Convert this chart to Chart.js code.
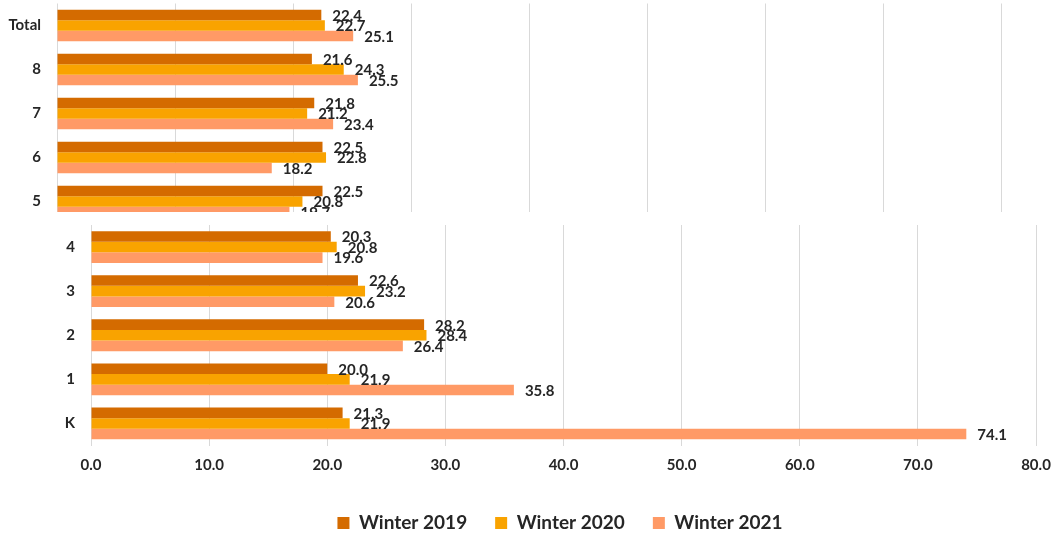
<!DOCTYPE html>
<html>
<head>
<meta charset="utf-8">
<script src="https://cdn.jsdelivr.net/npm/chart.js@4/dist/chart.umd.min.js"></script>
<style>
  html, body { margin: 0; padding: 0; background: #fff; overflow: hidden; }
  body { width: 1058px; height: 537px; position: relative; }
  #topBox { position: absolute; left: 0; top: 0; width: 1058px; height: 212px; overflow: hidden; background: #fff; z-index: 2; }
  #bottomBox { position: absolute; left: 0; top: 214px; width: 1058px; height: 323px; overflow: hidden; background: #fff; }
</style>
</head>
<body>
<div id="topBox"><canvas id="chartTop" width="1058" height="444"></canvas></div>
<div id="bottomBox"><canvas id="chartBottom" width="1120" height="330"></canvas></div>
<script>
// grades / average by winter
const categories = ['Total', '8', '7', '6', '5', '4', '3', '2', '1', 'K'];
const winter2019 = [22.4, 21.6, 21.8, 22.5, 22.5, 20.3, 22.6, 28.2, 20.0, 21.3];
const winter2020 = [22.7, 24.3, 21.2, 22.8, 20.8, 20.8, 23.2, 28.4, 21.9, 21.9];
const winter2021 = [25.1, 25.5, 23.4, 18.2, 19.7, 19.6, 20.6, 26.4, 35.8, 74.1];
const seriesNames = ['Winter 2019', 'Winter 2020', 'Winter 2021'];
const xTicks = [0, 10, 20, 30, 40, 50, 60, 70, 80];

const colors = ['#D46B00', '#F9A300', '#FF9A66'];
const FONT = 'Lato, "Open Sans", sans-serif';
const TEXT = '#262626';

// value labels at the bar ends
const valueLabels = {
  id: 'valueLabels',
  afterDatasetsDraw(chart) {
    const ctx = chart.ctx;
    ctx.save();
    ctx.font = 'bold 15px ' + FONT;
    ctx.fillStyle = TEXT;
    ctx.textBaseline = 'middle';
    ctx.textAlign = 'left';
    chart.data.datasets.forEach((ds, i) => {
      chart.getDatasetMeta(i).data.forEach((bar, j) => {
        ctx.fillText(ds.data[j].toFixed(1), bar.x + 11, bar.y + 1);
      });
    });
    ctx.restore();
  }
};

function makeData(from, to) {
  const all = [winter2019, winter2020, winter2021];
  return {
    labels: categories.slice(from, to),
    datasets: all.map((vals, i) => ({
      label: seriesNames[i],
      data: vals.slice(from, to),
      backgroundColor: colors[i],
      borderWidth: 0,
      categoryPercentage: 0.72,
      barPercentage: 1.0
    }))
  };
}

function makeOptions(padRight, pad, showX, showLegend) {
  return {
    indexAxis: 'y',
    responsive: false,
    animation: false,
    layout: { padding: pad },
    plugins: {
      legend: {
        display: showLegend,
        position: 'bottom',
        labels: {
          boxWidth: 12, boxHeight: 12, padding: 28,
          color: TEXT,
          font: { family: FONT, size: 19, weight: 'bold' }
        }
      },
      tooltip: { enabled: false }
    },
    scales: {
      x: {
        min: 0, max: 80,
        afterBuildTicks: s => { s.ticks = xTicks.map(v => ({ value: v })); },
        afterFit: s => { s.paddingLeft = 0; s.paddingRight = padRight; },
        grid: { color: '#d9d9d9', drawTicks: false },
        border: { display: false },
        ticks: {
          display: showX,
          padding: 11,
          color: TEXT,
          font: { family: FONT, size: 15, weight: 'bold' },
          callback: v => Number(v).toFixed(1)
        }
      },
      y: {
        afterFit: s => { s.paddingTop = 0; s.paddingBottom = 0; },
        grid: { display: false, drawTicks: false },
        border: { display: false },
        ticks: {
          padding: 16,
          color: TEXT,
          font: { family: FONT, size: 15, weight: 'bold' }
        }
      }
    }
  };
}

function fixWidth(w) {
  return s => { s.width = w; s.paddingTop = 0; s.paddingBottom = 0; };
}

const optTop = makeOptions(0, { top: 3.5, right: 57, bottom: 0.5, left: 0 }, false, false);
optTop.scales.y.afterFit = fixWidth(57);
new Chart(document.getElementById('chartTop'), {
  type: 'bar',
  data: makeData(0, 10),
  options: optTop,
  plugins: [valueLabels]
});

// canvas is wider than the page so the legend centre sits at 560
const optBottom = makeOptions(84, { top: 11, right: 0, bottom: 1.5, left: 0 }, true, true);
optBottom.scales.y.afterFit = fixWidth(91);
new Chart(document.getElementById('chartBottom'), {
  type: 'bar',
  data: makeData(5, 10),
  options: optBottom,
  plugins: [valueLabels]
});
</script>
</body>
</html>
